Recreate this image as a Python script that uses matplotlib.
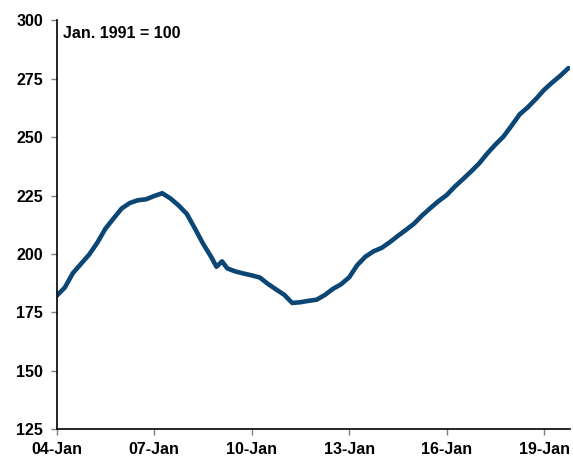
import matplotlib
matplotlib.use("Agg")
import matplotlib.pyplot as plt
import matplotlib.dates as mdates
import pandas as pd

# House price index, Jan. 1991 = 100
dates = [
    "2004-01", "2004-04", "2004-07", "2004-10",
    "2005-01", "2005-04", "2005-07", "2005-10",
    "2006-01", "2006-04", "2006-07", "2006-10",
    "2007-01", "2007-04", "2007-07", "2007-10",
    "2008-01", "2008-04", "2008-07", "2008-10", "2008-12",
    "2009-02", "2009-04", "2009-07", "2009-10",
    "2010-01", "2010-04", "2010-07", "2010-10",
    "2011-01", "2011-04", "2011-07", "2011-10",
    "2012-01", "2012-04", "2012-07", "2012-10",
    "2013-01", "2013-04", "2013-07", "2013-10",
    "2014-01", "2014-04", "2014-07", "2014-10",
    "2015-01", "2015-04", "2015-07", "2015-10",
    "2016-01", "2016-04", "2016-07", "2016-10",
    "2017-01", "2017-04", "2017-07", "2017-10",
    "2018-01", "2018-04", "2018-07", "2018-10",
    "2019-01", "2019-04", "2019-07", "2019-10",
]
index_values = [
    182.1, 185.6, 191.8, 195.8,
    199.8, 204.8, 210.8, 215.2,
    219.5, 221.8, 223.0, 223.4,
    224.8, 226.0, 223.8, 220.8,
    217.2, 211.0, 204.5, 198.8, 194.5,
    196.8, 193.8, 192.5, 191.6,
    190.8, 189.9, 187.2, 184.8,
    182.5, 179.0, 179.3, 179.9,
    180.4, 182.4, 185.0, 187.0,
    190.0, 195.2, 198.8, 201.1,
    202.6, 205.0, 207.7, 210.3,
    213.0, 216.5, 219.6, 222.6,
    225.2, 228.8, 232.0, 235.3,
    238.8, 243.0, 246.8, 250.3,
    255.0, 259.8, 262.8, 266.4,
    270.3, 273.4, 276.3, 279.6,
]
tick_dates = ["2004-01-01", "2007-01-01", "2010-01-01",
              "2013-01-01", "2016-01-01", "2019-01-01"]
y_ticks = [125, 150, 175, 200, 225, 250, 275, 300]
note = "Jan. 1991 = 100"

plt.rcParams["font.family"] = ["Liberation Sans", "DejaVu Sans"]

x = pd.to_datetime(dates)
fig = plt.figure(figsize=(5.73, 4.58), dpi=100)
ax = fig.add_axes([0.099, 0.0633, 0.896, 0.892])

ax.plot(x, index_values, color="#0b4674", linewidth=3.3,
        solid_capstyle="round", solid_joinstyle="round")

ax.set_ylim(125, 300)
ax.set_yticks(y_ticks)
ax.set_xlim(pd.Timestamp("2004-01-01"), pd.Timestamp("2019-10-20"))
ax.set_xticks(pd.to_datetime(tick_dates))
ax.xaxis.set_major_formatter(mdates.DateFormatter("%y-%b"))

for side in ("top", "right"):
    ax.spines[side].set_visible(False)
for side in ("left", "bottom"):
    ax.spines[side].set_linewidth(1.2)
    ax.spines[side].set_color("black")

ax.tick_params(axis="both", direction="out", length=4, width=1,
               color="#808080", labelsize=11.5)
ax.tick_params(axis="y", pad=6)
ax.tick_params(axis="x", pad=5)
for lbl in ax.get_xticklabels() + ax.get_yticklabels():
    lbl.set_fontweight("bold")

ax.text(0.013, 0.967, note, transform=ax.transAxes, fontsize=11.5,
        fontweight="bold", va="center", ha="left")

fig.savefig("out.png", dpi=100)
